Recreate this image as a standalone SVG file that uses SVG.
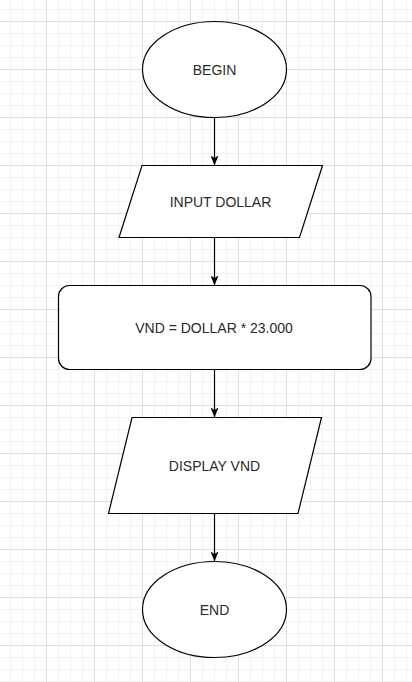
<svg xmlns="http://www.w3.org/2000/svg" width="412" height="682" viewBox="0 0 412 682">
  <defs>
    <pattern id="minor" patternUnits="userSpaceOnUse" x="10" y="9" width="12" height="12">
      <path d="M0 0.5H12M0.5 0V12" stroke="#f2f2f2" stroke-width="1" fill="none"/>
    </pattern>
    <pattern id="major" patternUnits="userSpaceOnUse" x="46" y="21" width="48" height="48">
      <path d="M0 0.5H48M0.5 0V48" stroke="#dedede" stroke-width="1" fill="none"/>
    </pattern>
    <marker id="arrow" markerUnits="userSpaceOnUse" viewBox="0 0 10 8" refX="10" refY="4" markerWidth="10" markerHeight="8" orient="auto">
      <path d="M0,0 L10,4 L0,8 L2.5,4 Z" fill="#000"/>
    </marker>
    <style>
      .shape { fill: #fff; stroke: #000; stroke-width: 1.2; }
      .label { font-family: "Liberation Sans", Arial, sans-serif; font-size: 14px; fill: #2a2a2a; text-anchor: middle; dominant-baseline: central; }
      .edge { fill: none; stroke: #000; stroke-width: 1.2; marker-end: url(#arrow); }
    </style>
  </defs>
  <rect width="412" height="682" fill="#fff"/>
  <rect width="412" height="682" fill="url(#minor)"/>
  <rect width="412" height="682" fill="url(#major)"/>

  <g id="connectors">
    <path class="edge" d="M214.5 117.5V165.5"/>
    <path class="edge" d="M214.5 237.5V285.5"/>
    <path class="edge" d="M214.5 369.5V417.5"/>
    <path class="edge" d="M214.5 513.5V561.5"/>
  </g>

  <g id="begin">
    <ellipse class="shape" cx="214.5" cy="69.5" rx="72" ry="48"/>
    <text class="label" x="214.5" y="70">BEGIN</text>
  </g>

  <g id="input-dollar">
    <polygon class="shape" points="142,165.5 322.5,165.5 299.5,237.5 119,237.5"/>
    <text class="label" x="220.5" y="201.5">INPUT DOLLAR</text>
  </g>

  <g id="compute">
    <rect class="shape" x="58.5" y="285.5" width="312.5" height="84" rx="11" ry="11"/>
    <text class="label" x="214" y="327.5">VND = DOLLAR * 23.000</text>
  </g>

  <g id="display-vnd">
    <polygon class="shape" points="132,417.5 321.5,417.5 298,513.5 108.5,513.5"/>
    <text class="label" x="214.5" y="465.5">DISPLAY VND</text>
  </g>

  <g id="end">
    <ellipse class="shape" cx="214.5" cy="609.5" rx="72" ry="48"/>
    <text class="label" x="214.5" y="610">END</text>
  </g>
</svg>
